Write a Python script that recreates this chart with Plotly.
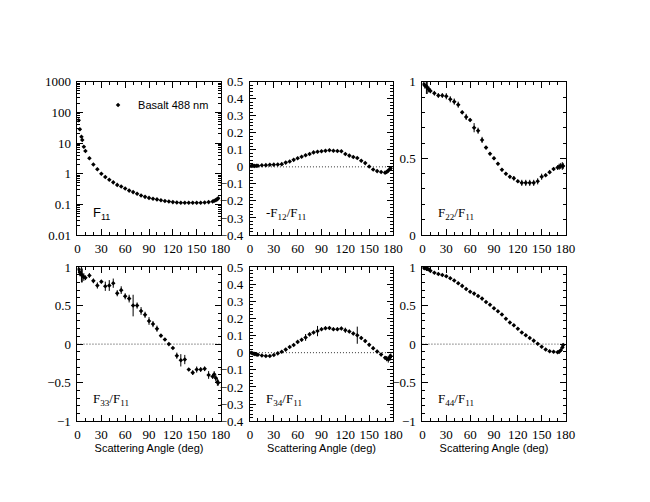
import plotly.graph_objects as go

# ---------------- data ----------------
angles = [1.5, 3, 5, 6, 8, 10,
          15, 20, 25, 30, 35, 40, 45, 50, 55, 60,
          65, 70, 75, 80, 85, 90, 95, 100, 105, 110,
          115, 120, 125, 130, 135, 140, 145, 150, 155, 160,
          165, 170,
          172, 174, 176, 177]

f11 = [55, 28, 16, 12.5, 7.5, 5.5,
       3.2, 2.0, 1.4, 1.0, 0.78, 0.63, 0.52, 0.43, 0.38, 0.33,
       0.28, 0.25, 0.22, 0.195, 0.175, 0.162, 0.152, 0.145, 0.136, 0.128,
       0.123, 0.118, 0.115, 0.113, 0.112, 0.112, 0.112, 0.112, 0.113, 0.115,
       0.118, 0.124,
       0.13, 0.137, 0.148, 0.158]
f11_err = [6, 3, 1.5, 1.0, 0.5, 0.35,
           0.15, 0.1, 0.06, 0.04, 0.03, 0.02, 0.015, 0.012, 0.01, 0.008,
           0.007, 0.006, 0.005, 0.005, 0.004, 0.004, 0.004, 0.003, 0.003, 0.003,
           0.003, 0.003, 0.003, 0.003, 0.003, 0.003, 0.003, 0.003, 0.003, 0.003,
           0.003, 0.004,
           0.004, 0.005, 0.006, 0.007]

mf12 = [0.005, 0.007, 0.006, 0.005, 0.006, 0.007,
        0.009, 0.010, 0.012, 0.013, 0.014, 0.016, 0.025, 0.032, 0.041, 0.050,
        0.059, 0.068, 0.076, 0.085, 0.089, 0.092, 0.095, 0.097, 0.095, 0.093,
        0.092, 0.076, 0.066, 0.058, 0.052, 0.036, 0.022, 0.002, -0.016, -0.025,
        -0.030, -0.034,
        -0.030, -0.022, -0.014, -0.008]
mf12_err = [0.006, 0.005, 0.005, 0.004, 0.004, 0.004,
            0.003, 0.003, 0.003, 0.003, 0.003, 0.003, 0.004, 0.004, 0.004, 0.005,
            0.005, 0.005, 0.005, 0.005, 0.005, 0.006, 0.005, 0.005, 0.005, 0.005,
            0.005, 0.005, 0.006, 0.006, 0.006, 0.008, 0.006, 0.006, 0.005, 0.006,
            0.005, 0.005,
            0.008, 0.008, 0.010, 0.010]

f22 = [0.983, 0.975, 0.970, 0.960, 0.950, 0.940,
       0.925, 0.910, 0.910, 0.905, 0.885, 0.870, 0.850, 0.800, 0.770, 0.750,
       0.700, 0.680, 0.620, 0.570, 0.530, 0.500, 0.465, 0.425, 0.400, 0.380,
       0.370, 0.350, 0.340, 0.340, 0.340, 0.340, 0.350, 0.380, 0.390, 0.410,
       0.430, 0.440,
       0.445, 0.450, 0.450, 0.450]
f22_err = [0.01, 0.02, 0.05, 0.04, 0.02, 0.015,
           0.015, 0.015, 0.015, 0.02, 0.02, 0.02, 0.02, 0.01, 0.02, 0.01,
           0.03, 0.02, 0.02, 0.01, 0.01, 0.01, 0.01, 0.01, 0.01, 0.01,
           0.015, 0.01, 0.02, 0.02, 0.02, 0.02, 0.02, 0.02, 0.01, 0.01,
           0.01, 0.015,
           0.02, 0.02, 0.025, 0.02]

f33 = [0.97, 0.93, 0.90, 0.89, 0.87, 0.86,
       0.89, 0.82, 0.76, 0.81, 0.75, 0.76, 0.79, 0.66, 0.70, 0.62,
       0.59, 0.50, 0.50, 0.43, 0.38, 0.30, 0.26, 0.20, 0.11, 0.06,
       0.00, -0.05, -0.15, -0.21, -0.20, -0.33, -0.37, -0.33, -0.33, -0.32,
       -0.40, -0.42,
       -0.39, -0.44, -0.49, -0.50]
f33_err = [0.04, 0.05, 0.10, 0.09, 0.05, 0.03,
           0.03, 0.03, 0.04, 0.02, 0.06, 0.07, 0.06, 0.04, 0.05, 0.04,
           0.05, 0.14, 0.04, 0.05, 0.04, 0.05, 0.04, 0.04, 0.02, 0.015,
           0.01, 0.01, 0.04, 0.08, 0.06, 0.02, 0.03, 0.04, 0.03, 0.03,
           0.05, 0.03,
           0.04, 0.04, 0.05, 0.04]

f34 = [0.000, -0.003, -0.006, -0.008, -0.010, -0.012,
       -0.016, -0.019, -0.019, -0.013, -0.004, 0.006, 0.018, 0.033, 0.045, 0.063,
       0.076, 0.089, 0.107, 0.118, 0.126, 0.137, 0.143, 0.144, 0.137, 0.137,
       0.141, 0.131, 0.124, 0.112, 0.102, 0.086, 0.068, 0.046, 0.026, 0.007,
       -0.011, -0.030,
       -0.035, -0.038, -0.028, -0.020]
f34_err = [0.005, 0.004, 0.006, 0.005, 0.004, 0.004,
           0.004, 0.004, 0.004, 0.004, 0.004, 0.005, 0.005, 0.005, 0.007, 0.008,
           0.010, 0.020, 0.010, 0.010, 0.030, 0.010, 0.010, 0.010, 0.010, 0.010,
           0.010, 0.015, 0.010, 0.010, 0.050, 0.010, 0.010, 0.010, 0.010, 0.010,
           0.010, 0.010,
           0.015, 0.020, 0.020, 0.015]

f44 = [0.990, 0.985, 0.980, 0.975, 0.970, 0.950,
       0.925, 0.910, 0.895, 0.880, 0.855, 0.825, 0.790, 0.755, 0.715, 0.680,
       0.655, 0.625, 0.590, 0.545, 0.510, 0.465, 0.425, 0.385, 0.330, 0.280,
       0.245, 0.200, 0.150, 0.115, 0.080, 0.045, 0.005, -0.035, -0.070, -0.092,
       -0.100, -0.105,
       -0.100, -0.080, -0.045, -0.013]
f44_err = [0.01, 0.02, 0.03, 0.02, 0.01, 0.01,
           0.015, 0.015, 0.015, 0.015, 0.015, 0.015, 0.015, 0.015, 0.015, 0.015,
           0.015, 0.015, 0.015, 0.015, 0.015, 0.015, 0.015, 0.015, 0.015, 0.015,
           0.015, 0.015, 0.015, 0.015, 0.015, 0.015, 0.015, 0.015, 0.015, 0.015,
           0.015, 0.015,
           0.02, 0.02, 0.02, 0.02]

x_ticks = [0, 30, 60, 90, 120, 150, 180]
legend_name = "Basalt 488 nm"
x_title = "Scattering Angle (deg)"

# ---------------- layout geometry (pixels) ----------------
W, H = 650, 502
cols = [(76, 222), (252, 398), (428, 574)]
rows = [(77, 235), (268, 427)]

SERIF = "Liberation Serif, Times New Roman, serif"
SANS = "Liberation Sans, Arial, sans-serif"

def xd(a, b):
    return [a / W, b / W]

def yd(t, b):
    return [1 - b / H, 1 - t / H]

panels = [
    dict(y=f11, e=f11_err, log=True, rng=[-2, 3], label="F<sub>11</sub>", lfont=SANS, zero=False),
    dict(y=mf12, e=mf12_err, log=False, rng=[-0.4, 0.5], dt=0.1, mdt=0.02,
         label="-F<sub>12</sub>/F<sub>11</sub>", lfont=SERIF, zero=True),
    dict(y=f22, e=f22_err, log=False, rng=[0, 1], dt=0.5, mdt=0.1,
         label="F<sub>22</sub>/F<sub>11</sub>", lfont=SERIF, zero=False),
    dict(y=f33, e=f33_err, log=False, rng=[-1, 1], dt=0.5, mdt=0.1,
         label="F<sub>33</sub>/F<sub>11</sub>", lfont=SERIF, zero=True),
    dict(y=f34, e=f34_err, log=False, rng=[-0.4, 0.5], dt=0.1, mdt=0.02,
         label="F<sub>34</sub>/F<sub>11</sub>", lfont=SERIF, zero=True),
    dict(y=f44, e=f44_err, log=False, rng=[-1, 1], dt=0.5, mdt=0.1,
         label="F<sub>44</sub>/F<sub>11</sub>", lfont=SERIF, zero=True),
]

fig = go.Figure()
layout = {}
annotations = []
shapes = []

for i, p in enumerate(panels):
    n = i + 1
    r, c = divmod(i, 3)
    xs = "" if n == 1 else str(n)
    fig.add_trace(go.Scatter(
        x=angles, y=p["y"], mode="markers",
        xaxis="x" + xs, yaxis="y" + xs,
        marker=dict(symbol="diamond", size=3.5, color="black"),
        error_y=dict(type="data", array=p["e"], visible=True,
                     color="black", thickness=1, width=0),
        name=legend_name, showlegend=(n == 1),
    ))
    xa = dict(domain=xd(*cols[c]), range=[0, 180], anchor="y" + xs,
              tickvals=x_ticks, ticks="inside", ticklen=6, tickwidth=1,
              tickcolor="black", showline=True, linecolor="black", linewidth=1,
              mirror="ticks", showgrid=False, zeroline=False, ticklabelstandoff=1,
              tickfont=dict(family=SERIF, size=13, color="black"),
              minor=dict(dtick=10, tick0=0, ticks="inside", ticklen=3,
                         tickcolor="black", showgrid=False))
    if r == 1:
        xa["title"] = dict(text=x_title, font=dict(family=SANS, size=11, color="black"),
                           standoff=2)
    ya = dict(domain=yd(*rows[r]), anchor="x" + xs, ticks="inside", ticklen=6,
              tickwidth=1, tickcolor="black", showline=True, linecolor="black",
              linewidth=1, mirror="ticks", showgrid=False, zeroline=False,
              ticklabelstandoff=3,
              tickfont=dict(family=SERIF, size=13, color="black"))
    if p["log"]:
        ya.update(type="log", range=p["rng"],
                  tickvals=[0.01, 0.1, 1, 10, 100, 1000],
                  ticktext=["0.01", "0.1", "1", "10", "100", "1000"])
        minor_vals = [m * 10 ** d for d in range(-2, 3) for m in range(2, 10)]
        ya["minor"] = dict(tickvals=minor_vals, ticks="inside", ticklen=3,
                           tickcolor="black", showgrid=False)
    else:
        ya.update(range=p["rng"], dtick=p["dt"], tick0=0,
                  minor=dict(dtick=p["mdt"], tick0=0, ticks="inside", ticklen=3,
                             tickcolor="black", showgrid=False))
    layout["xaxis" + xs] = xa
    layout["yaxis" + xs] = ya

    if p["zero"]:
        shapes.append(dict(type="line", xref="x" + xs + " domain", yref="y" + xs,
                           x0=0, x1=1, y0=0, y1=0,
                           line=dict(color="black", width=0.8, dash="1px,2px")))
    # panel label
    annotations.append(dict(
        text=p["label"], xref="paper", yref="paper",
        x=(cols[c][0] + 14) / W, y=1 - (rows[r][1] - 22) / H,
        xanchor="left", yanchor="middle", showarrow=False,
        font=dict(family=p["lfont"], size=13, color="black")))

fig.update_layout(
    **layout,
    width=W, height=H,
    margin=dict(l=0, r=0, t=0, b=0),
    paper_bgcolor="white", plot_bgcolor="white",
    showlegend=True,
    legend=dict(x=97 / W, y=1 - 101 / H, xanchor="left", yanchor="middle",
                bgcolor="rgba(0,0,0,0)",
                font=dict(family=SANS, size=11, color="black")),
    annotations=annotations,
    shapes=shapes,
)

fig.write_html("out.html")
